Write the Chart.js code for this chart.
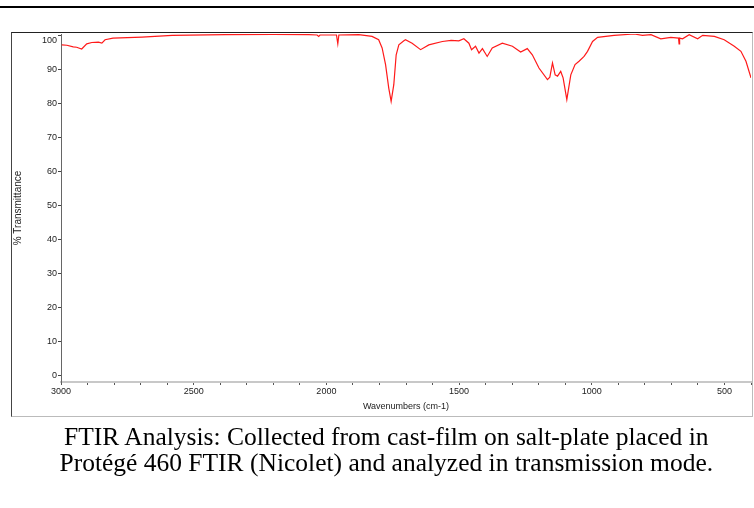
<!DOCTYPE html>
<html><head><meta charset="utf-8">
<script src="https://cdn.jsdelivr.net/npm/chart.js@4"></script>
<style>
html,body{margin:0;padding:0;background:#fff;width:754px;height:508px;overflow:hidden;}
#topline{position:absolute;left:0;top:6px;width:754px;height:2px;background:#000;}
#frame{position:absolute;left:11px;top:32px;width:740px;height:383px;border-top:1px solid #222;border-left:1px solid #444;border-right:1px solid #bbb;border-bottom:1px solid #bbb;}
#wrap{position:absolute;left:0;top:0;width:754px;height:508px;}
#caption{position:absolute;left:11px;top:424px;width:751px;text-align:center;font-family:"Liberation Serif","Times New Roman",serif;font-size:25px;line-height:26px;color:#000;white-space:nowrap;transform:scaleX(1.02);transform-origin:386px 0;}
</style></head>
<body>
<div id="topline"></div>
<div id="frame"></div>
<div id="wrap"><canvas id="c" width="754" height="508"></canvas></div>
<div id="caption"><span id="l1">FTIR Analysis: Collected from cast-film on salt-plate placed in</span><br><span id="l2">Protégé 460 FTIR (Nicolet) and analyzed in transmission mode.</span></div>
<script>
const wavenumbers = [2997,2978,2954,2941,2922,2903,2884,2859,2846,2834,2804,2695,2581,2381,2200,2067,2035,2029,2024,1962,1957,1953,1878,1828,1803,1790,1777,1765,1756,1746,1737,1727,1708,1702,1677,1645,1614,1563,1530,1501,1482,1463,1453,1438,1425,1412,1394,1375,1337,1299,1268,1243,1224,1199,1167,1158,1148,1138,1129,1117,1108,1094,1079,1063,1048,1029,1016,997,978,916,840,809,777,740,702,673,671,669,658,633,601,582,538,501,463,438,419,400];
const transmittance = [97.1,97.0,96.5,96.4,95.9,97.4,97.8,97.9,97.6,98.6,99.1,99.4,99.9,100.1,100.2,100.1,100.0,99.6,100.0,100.0,97.4,100.0,100.1,99.6,98.6,96.2,91.3,84.4,80.5,85.4,94.2,97.1,98.3,98.6,97.6,95.7,97.1,98.1,98.4,98.3,98.9,97.6,95.7,96.7,94.7,96.0,93.7,96.2,97.6,96.7,95.0,96.0,94.2,90.3,86.9,87.6,91.8,88.3,87.9,89.3,87.4,81.0,88.3,91.3,92.3,93.7,95.2,98.1,99.3,99.9,100.3,99.9,100.1,98.9,99.3,99.1,97.4,99.1,98.9,100.1,98.9,99.9,99.6,98.6,96.7,95.2,92.3,87.4];
const yTickValues = [0,10,20,30,40,50,60,70,80,90,100];
const xTickValues = [3000,2900,2800,2700,2600,2500,2400,2300,2200,2100,2000,1900,1800,1700,1600,1500,1400,1300,1200,1100,1000,900,800,700,600,500,400];
const xLabelValues = [3000,2500,2000,1500,1000,500];

const tickFont = {family:'"Liberation Sans", Arial, sans-serif', size:9};
const xTitleFont = {family:'"Liberation Sans", Arial, sans-serif', size:9};
const yTitleFont = {family:'"Liberation Sans", Arial, sans-serif', size:10};

new Chart(document.getElementById('c'), {
  type: 'line',
  data: {
    datasets: [{
      data: wavenumbers.map((w,i)=>({x:w, y:transmittance[i]})),
      borderColor: '#ff1a1a',
      borderWidth: 1.2,
      pointRadius: 0,
      tension: 0,
      fill: false
    }]
  },
  options: {
    responsive: false,
    animation: false,
    layout: {padding: {left: 12, top: 34, right: 3, bottom: 92}},
    plugins: {legend: {display: false}, tooltip: {enabled: false}},
    scales: {
      x: {
        type: 'linear', reverse: true, min: 400, max: 3000,
        afterBuildTicks: s => { s.ticks = xTickValues.map(v => ({value: v})); },
        afterFit: s => { s.height = 34; },
        ticks: {autoSkip: false, maxRotation: 0, padding: 1, color: '#222', font: tickFont,
          callback: v => xLabelValues.includes(v) ? String(v) : ''},
        grid: {drawOnChartArea: false, tickLength: 3, color: '#555'},
        border: {color: '#c8c8c8', width: 2},
        title: {display: true, text: 'Wavenumbers (cm-1)', color: '#222', font: xTitleFont, padding: {top: 0, bottom: 3.6}}
      },
      y: {
        min: -2, max: 100.3,
        afterBuildTicks: s => { s.ticks = yTickValues.map(v => ({value: v})); },
        afterFit: s => { s.width = 49; },
        ticks: {autoSkip: false, padding: 1, color: '#222', font: tickFont,
          callback: v => v === 100 ? ['', '100'] : String(v)},
        grid: {drawOnChartArea: false, tickLength: 3, color: '#444'},
        border: {color: '#666', dash: [1, 2.4]},
        title: {display: true, text: '% Transmittance', color: '#222', font: yTitleFont, padding: {top: 0, bottom: 0}}
      }
    }
  }
});
</script>
</body></html>
